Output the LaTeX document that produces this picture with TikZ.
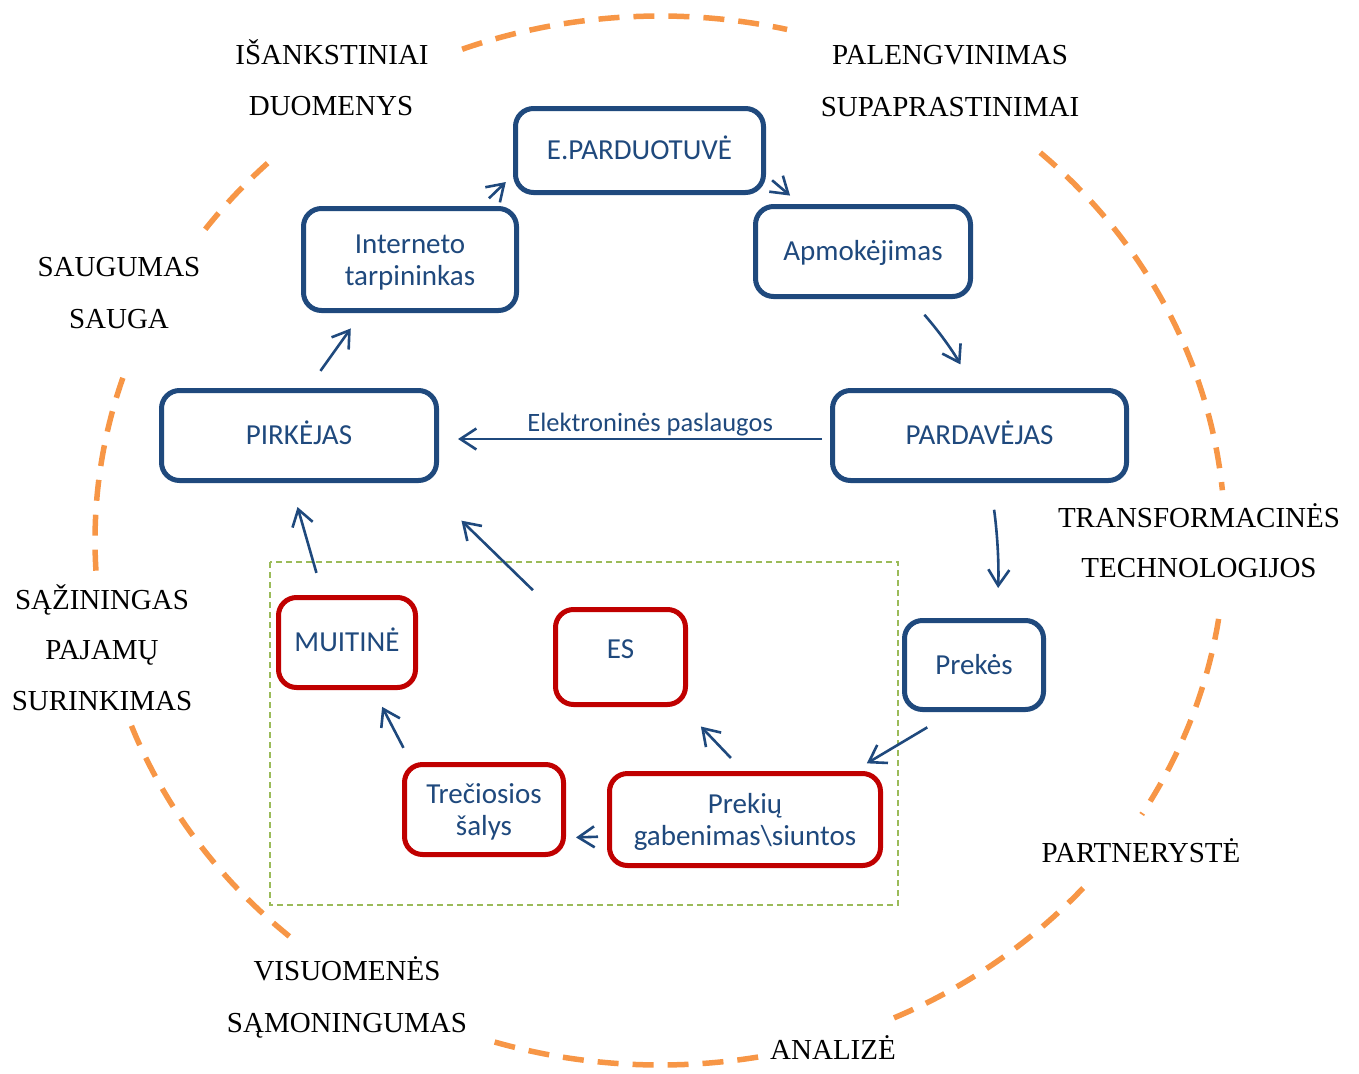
\documentclass[tikz,border=0pt]{standalone}
\usepackage{fontspec}
\setmainfont{Liberation Serif}
\newfontfamily\boxfont{Carlito}
\usetikzlibrary{arrows.meta}
\definecolor{navy}{HTML}{1F497D}
\definecolor{crimson}{HTML}{C00000}
\definecolor{ring}{HTML}{F79646}
\definecolor{olive}{HTML}{9BBB59}
% first-line strut for two-line box captions
\newcommand{\capstrut}{\rule{0pt}{24pt}}

\begin{document}
\begin{tikzpicture}[x=1pt,y=-1pt,
  card/.style={draw, line width=5pt, rounded corners=18pt, fill=white,
    inner sep=0pt, align=center, text=navy,
    font=\boxfont\fontsize{29}{32}\selectfont},
  oneline/.style={text height=24pt, text depth=5.3pt},
  bluecard/.style={card, draw=navy},
  redcard/.style={card, draw=crimson},
  flow/.style={draw=navy, line width=2.6pt,
    -{Straight Barb[length=16pt,width=21pt]}},
  ringarc/.style={draw=ring, line width=5.5pt, dash pattern=on 21pt off 14pt},
  theme/.style={font=\fontsize{29}{32}\selectfont, anchor=base, inner sep=0pt},
]
\useasboundingbox (0,0) rectangle (1359,1073);

% customs / delivery area
\draw[olive, line width=1.3pt, dash pattern=on 6pt off 4pt]
  (270,562) rectangle (898,905);

% dashed ring of themes
\foreach \a/\b in {110.5/77, 47.7/5.5, -8.6/-31.5, -41.5/-66,
                   -80/-107.5, -131/-159.5, 183.3/161.8, 143.6/133.6}
  \draw[ringarc] plot[domain=\a:\b, samples=40, smooth]
    ({660+565*cos(\x)},{540.5-524.5*sin(\x)});

% theme labels
\node[theme] (t1a) at (332,64)  {IŠANKSTINIAI};
\node[theme] (t1b) at (331,115) {DUOMENYS};
\node[theme] (t2a) at (950,65)  {PALENGVINIMAS};
\node[theme] (t2b) at (950,116) {SUPAPRASTINIMAI};
\node[theme] (t3a) at (119,276) {SAUGUMAS};
\node[theme] (t3b) at (119,328) {SAUGA};
\node[theme] (t4a) at (1199,527) {TRANSFORMACINĖS};
\node[theme] (t4b) at (1199,577) {TECHNOLOGIJOS};
\node[theme] (t5a) at (102,609) {SĄŽININGAS};
\node[theme] (t5b) at (102,659) {PAJAMŲ};
\node[theme] (t5c) at (102,710) {SURINKIMAS};
\node[theme] (t6)  at (1141,862) {PARTNERYSTĖ};
\node[theme] (t7a) at (347,980)  {VISUOMENĖS};
\node[theme] (t7b) at (347,1032) {SĄMONINGUMAS};
\node[theme] (t8)  at (833,1059) {ANALIZĖ};

% process boxes
\node[bluecard, oneline, minimum width=248pt, minimum height=84pt]  (eshop)  at (639.5,150.5) {E.PARDUOTUVĖ};
\node[bluecard, minimum width=213pt, minimum height=102pt] (inter)  at (410,259.5) {\capstrut Interneto\\tarpininkas};
\node[bluecard, oneline, minimum width=215pt, minimum height=90pt]  (apmok)  at (863,251.5) {Apmokėjimas};
\node[bluecard, oneline, minimum width=275pt, minimum height=90pt]  (pirk)   at (299,435.5) {PIRKĖJAS};
\node[bluecard, oneline, minimum width=294pt, minimum height=90pt]  (pardav) at (979.5,435.5) {PARDAVĖJAS};
\node[bluecard, oneline, minimum width=139pt, minimum height=89pt]  (prekes) at (974,665) {Prekės};
\node[redcard,  oneline, minimum width=137pt, minimum height=90pt]  (muit)   at (347,642.5) {MUITINĖ};
\node[redcard,  text height=24pt, text depth=21pt, minimum width=130pt, minimum height=95pt]  (es) at (620.5,657) {ES};
\node[redcard,  minimum width=159pt, minimum height=90pt]  (trec)   at (484,809.5) {\capstrut Trečiosios\\šalys};
\node[redcard,  minimum width=271pt, minimum height=92pt]  (prekiu) at (745,819.5) {\capstrut Prekių\\gabenimas\textbackslash siuntos};

% flows
\draw[flow, shorten <=11pt, shorten >=10pt] (inter.37) -- (eshop.191);
\draw[flow, shorten <=8pt, shorten >=13pt] (eshop.-11) -- (apmok.143);
\draw[flow, shorten <=21pt, shorten >=27pt] (apmok.-45) to[bend left=6] (pardav.97);
\draw[flow, shorten <=8pt, shorten >=19pt] ([yshift=-3.5pt]pardav.west) --
  node[pos=0.46, anchor=base, yshift=8pt, inner sep=0pt, text=navy,
       font=\boxfont\fontsize{26.5}{30}\selectfont] (elabel) {Elektroninės paslaugos}
  ([yshift=-3.5pt]pirk.east);
\draw[flow, shorten <=21pt, shorten >=19pt] (pirk.79) -- (inter.228);
\draw[flow, shorten <=27pt, shorten >=30pt] (pardav.-77) to[bend left=5] (prekes.64);
\draw[flow, shorten <=30pt, shorten >=15pt] (prekes.246) -- (prekiu.24);
\draw[flow, shorten <=18pt, shorten >=27pt] (prekiu.92) -- (es.-39);
\draw[flow, shorten <=9pt, shorten >=10pt] (prekiu.187) -- (trec.-19);
\draw[flow, shorten <=16pt, shorten >=19pt] (trec.147) -- (muit.-61);
\draw[flow, shorten <=23pt, shorten >=25pt] (muit.117) -- (pirk.260);
\draw[flow, shorten <=28pt, shorten >=54pt] (es.145) -- (pirk.-21);
\end{tikzpicture}
\end{document}
